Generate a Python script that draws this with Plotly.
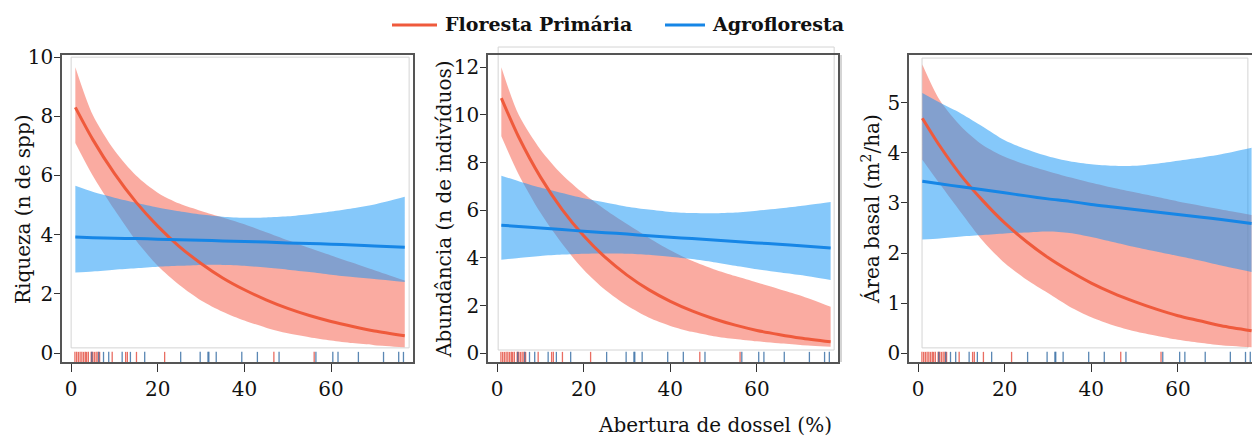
import plotly.graph_objects as go

# ---------------- data ----------------
canopy = [1, 5, 10, 15, 20, 25, 30, 35, 40, 45, 50, 55, 60, 65, 70, 77]

# Riqueza (n de spp)
riq_fp     = [8.30, 7.22, 6.07, 5.10, 4.29, 3.60, 3.03, 2.54, 2.14, 1.80, 1.51, 1.27, 1.07, 0.90, 0.75, 0.59]
riq_fp_hi  = [9.66, 8.05, 6.85, 6.00, 5.42, 5.05, 4.80, 4.58, 4.35, 4.08, 3.81, 3.55, 3.30, 3.05, 2.80, 2.45]
riq_fp_lo  = [7.10, 6.00, 4.85, 3.80, 2.95, 2.30, 1.78, 1.40, 1.10, 0.86, 0.67, 0.54, 0.43, 0.34, 0.27, 0.20]
riq_af     = [3.92, 3.90, 3.88, 3.87, 3.85, 3.83, 3.81, 3.79, 3.77, 3.75, 3.72, 3.70, 3.68, 3.65, 3.62, 3.58]
riq_af_hi  = [5.65, 5.45, 5.25, 5.08, 4.92, 4.79, 4.68, 4.61, 4.57, 4.58, 4.62, 4.69, 4.78, 4.89, 5.02, 5.28]
riq_af_lo  = [2.72, 2.76, 2.82, 2.87, 2.92, 2.95, 2.98, 2.98, 2.95, 2.89, 2.82, 2.74, 2.65, 2.57, 2.50, 2.40]

# Abundância (n de indivíduos)
abu_fp     = [10.70, 9.07, 7.40, 6.04, 4.93, 4.02, 3.28, 2.67, 2.18, 1.78, 1.45, 1.18, 0.96, 0.79, 0.64, 0.48]
abu_fp_hi  = [12.00, 10.00, 8.55, 7.50, 6.70, 6.02, 5.42, 4.85, 4.32, 3.88, 3.53, 3.24, 2.97, 2.70, 2.42, 1.95]
abu_fp_lo  = [9.10, 7.50, 5.90, 4.60, 3.50, 2.65, 2.00, 1.50, 1.15, 0.90, 0.72, 0.60, 0.50, 0.42, 0.35, 0.27]
abu_af     = [5.37, 5.32, 5.25, 5.19, 5.12, 5.06, 5.00, 4.93, 4.87, 4.81, 4.75, 4.69, 4.63, 4.57, 4.51, 4.42]
abu_af_hi  = [7.45, 7.22, 6.95, 6.72, 6.50, 6.32, 6.15, 6.03, 5.93, 5.88, 5.87, 5.90, 5.98, 6.07, 6.18, 6.35]
abu_af_lo  = [3.92, 4.00, 4.08, 4.14, 4.18, 4.19, 4.18, 4.13, 4.05, 3.95, 3.82, 3.67, 3.52, 3.40, 3.28, 3.07]

# Área basal (m2/ha)
ab_fp      = [4.69, 4.14, 3.54, 3.04, 2.60, 2.23, 1.91, 1.64, 1.40, 1.20, 1.03, 0.88, 0.75, 0.65, 0.55, 0.45]
ab_fp_hi   = [5.76, 5.05, 4.52, 4.15, 3.92, 3.76, 3.63, 3.51, 3.40, 3.30, 3.21, 3.12, 3.03, 2.95, 2.87, 2.76]
ab_fp_lo   = [3.86, 3.38, 2.80, 2.24, 1.80, 1.47, 1.20, 0.93, 0.72, 0.56, 0.44, 0.35, 0.27, 0.21, 0.16, 0.12]
ab_af      = [3.43, 3.38, 3.32, 3.26, 3.20, 3.14, 3.08, 3.03, 2.97, 2.92, 2.87, 2.82, 2.77, 2.72, 2.67, 2.59]
ab_af_hi   = [5.19, 5.00, 4.78, 4.52, 4.25, 4.07, 3.93, 3.83, 3.77, 3.74, 3.74, 3.78, 3.84, 3.90, 3.97, 4.10]
ab_af_lo   = [2.27, 2.29, 2.33, 2.36, 2.39, 2.41, 2.43, 2.40, 2.32, 2.22, 2.12, 2.03, 1.94, 1.85, 1.75, 1.62]

# rug: observed canopy openness of sampled plots
rug_fp = [0.9, 1.3, 1.7, 2.1, 2.5, 2.9, 3.3, 3.6, 4.0, 4.65, 5.0, 5.4, 5.8, 6.2, 6.6,
          9.5, 12.6, 13.0, 15.1, 21.6, 46.8, 56.1]
rug_af = [4.8, 6.4, 7.5, 8.7, 11.8, 13.7, 17.0, 25.3, 29.8, 31.6, 31.8, 33.5, 39.4,
          43.0, 48.0, 56.5, 60.4, 61.6, 66.3, 72.1, 75.6, 76.7]

series_names = ["Floresta Primária", "Agrofloresta"]
y_titles = ["Riqueza (n de spp)", "Abundância (n de indivíduos)", "Área basal (m<sup>2</sup>/ha)"]
x_title = "Abertura de dossel (%)"
x_ticks = [0, 20, 40, 60]
y_ticks = [[0, 2, 4, 6, 8, 10], [0, 2, 4, 6, 8, 10, 12], [0, 1, 2, 3, 4, 5]]

panels = [
    (riq_fp, riq_fp_hi, riq_fp_lo, riq_af, riq_af_hi, riq_af_lo),
    (abu_fp, abu_fp_hi, abu_fp_lo, abu_af, abu_af_hi, abu_af_lo),
    (ab_fp, ab_fp_hi, ab_fp_lo, ab_af, ab_af_hi, ab_af_lo),
]

# ---------------- styling ----------------
W, H = 1252, 437
FONT = "DejaVu Serif"
RED_LINE = "#ef5a3c"
RED_FILL = "rgba(246,88,68,0.50)"
BLUE_LINE = "#1686e6"
BLUE_FILL = "rgba(25,151,246,0.53)"
RUG_RED = "rgba(225,60,45,0.75)"
RUG_BLUE = "rgba(35,95,155,0.75)"
FRAME = "#555555"

x_dom = [(62 / W, 413 / W), (488 / W, 838 / W), (909 / W, 1.0)]
y_dom = (1 - 362 / H, 1 - 55 / H)
x_rng = [(-2.08, 78.9), (-2.08, 78.7), (-2.08, 77.1)]
y_rng = [(-0.30, 10.07), (-0.365, 12.51), (-0.174, 5.95)]
inner_box = [(0.026, 0.046, 0.989, 0.993), (0.029, 0.039, 0.989, 1.026), (0.038, 0.046, 0.988, 0.990)]
ytitle_x = [23 / W, 444 / W, 871 / W]

fig = go.Figure()
shapes = []
annotations = []

for i, (fp, fp_hi, fp_lo, af, af_hi, af_lo) in enumerate(panels):
    n = "" if i == 0 else str(i + 1)
    xa, ya = "x" + n, "y" + n
    band = dict(mode="lines", line=dict(width=0, shape="spline", smoothing=0.8),
                hoverinfo="skip", showlegend=False, xaxis=xa, yaxis=ya)
    fig.add_trace(go.Scatter(x=canopy, y=fp_lo, **band))
    fig.add_trace(go.Scatter(x=canopy, y=fp_hi, fill="tonexty", fillcolor=RED_FILL, **band))
    fig.add_trace(go.Scatter(x=canopy, y=af_lo, **band))
    fig.add_trace(go.Scatter(x=canopy, y=af_hi, fill="tonexty", fillcolor=BLUE_FILL, **band))
    fig.add_trace(go.Scatter(x=canopy, y=fp, mode="lines", name=series_names[0],
                             line=dict(color=RED_LINE, width=3, shape="spline", smoothing=0.8),
                             showlegend=False, xaxis=xa, yaxis=ya))
    fig.add_trace(go.Scatter(x=canopy, y=af, mode="lines", name=series_names[1],
                             line=dict(color=BLUE_LINE, width=3, shape="spline", smoothing=0.8),
                             showlegend=False, xaxis=xa, yaxis=ya))

    axis_common = dict(showgrid=False, zeroline=False, showline=True, mirror=True,
                       linecolor=FRAME, linewidth=1.5, ticks="outside", tickcolor="#333333",
                       automargin=False,
                       tickfont=dict(family=FONT, size=20, color="#111111"))
    fig.layout["xaxis" + n] = dict(domain=list(x_dom[i]), range=list(x_rng[i]), anchor=ya,
                                   tickvals=x_ticks, ticklen=8, **axis_common)
    fig.layout["yaxis" + n] = dict(domain=list(y_dom), range=list(y_rng[i]), anchor=xa,
                                   tickvals=y_ticks[i], ticklen=6, ticklabelstandoff=-3,
                                   **axis_common)

    x0, y0, x1, y1 = inner_box[i]
    shapes.append(dict(type="rect", xref=xa + " domain", yref=ya + " domain",
                       x0=x0, y0=y0, x1=x1, y1=y1, line=dict(color="#d4d4d4", width=1),
                       layer="below"))
    for xv in rug_fp:
        shapes.append(dict(type="line", xref=xa, yref=ya + " domain", x0=xv, x1=xv, y0=0.0, y1=0.033,
                           line=dict(color=RUG_RED, width=1.3)))
    for xv in rug_af:
        shapes.append(dict(type="line", xref=xa, yref=ya + " domain", x0=xv, x1=xv, y0=0.0, y1=0.033,
                           line=dict(color=RUG_BLUE, width=1.3)))

    annotations.append(dict(text=y_titles[i], xref="paper", yref="paper", x=ytitle_x[i],
                            y=1 - 209 / H, textangle=-90, showarrow=False,
                            xanchor="center", yanchor="middle",
                            font=dict(family=FONT, size=20, color="#111111")))

# thin gray separator at left of third panel
shapes.append(dict(type="line", xref="paper", yref="paper", x0=841 / W, x1=841 / W,
                   y0=1 - 362 / H, y1=1 - 55 / H, line=dict(color="#aaaaaa", width=1)))

# legend (drawn as keys + labels at the top)
legend_keys = [(392, 437, RED_LINE), (665, 705, BLUE_LINE)]
legend_text_x = [443, 710]
for (lx0, lx1, col), tx, name in zip(legend_keys, legend_text_x, series_names):
    shapes.append(dict(type="line", xref="paper", yref="paper", x0=lx0 / W, x1=lx1 / W,
                       y0=1 - 25 / H, y1=1 - 25 / H, line=dict(color=col, width=3)))
    annotations.append(dict(text="<b>" + name + "</b>", xref="paper", yref="paper",
                            x=tx / W, y=1 - 24 / H, showarrow=False,
                            xanchor="left", yanchor="middle",
                            font=dict(family=FONT, size=19, color="#111111")))

annotations.append(dict(text=x_title, xref="paper", yref="paper", x=715 / W, y=1 - 425 / H,
                        showarrow=False, xanchor="center", yanchor="middle",
                        font=dict(family=FONT, size=20, color="#111111")))

fig.update_layout(
    width=W, height=H,
    margin=dict(l=0, r=0, t=0, b=0, autoexpand=False),
    paper_bgcolor="white", plot_bgcolor="white",
    shapes=shapes, annotations=annotations,
    showlegend=False,
)

fig.write_html("out.html", config={"displayModeBar": False},
               post_script="document.body.style.margin='0px';")
